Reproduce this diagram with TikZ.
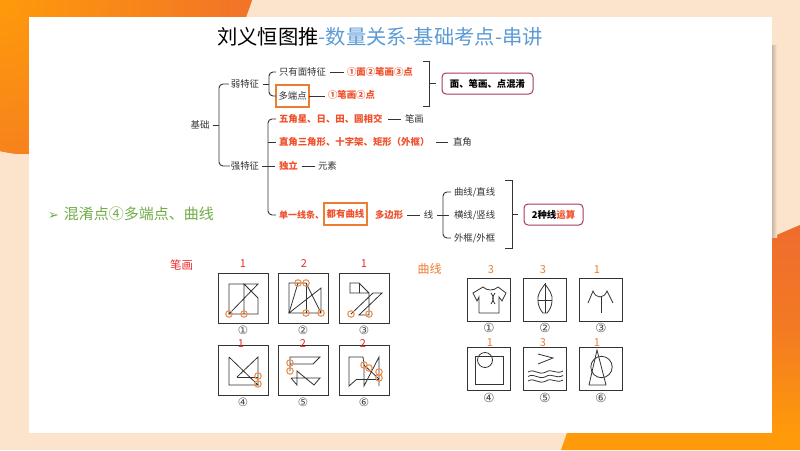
\documentclass[tikz,border=0pt]{standalone}
\usepackage{fontspec}
\setmainfont{Noto Sans CJK SC}
\newfontfamily\symfont{DejaVu Sans}
\usetikzlibrary{positioning,calc}
\definecolor{hotred}{HTML}{F0502A}
\definecolor{boxorange}{HTML}{ED7D31}
\definecolor{titleblue}{HTML}{5B9BD5}
\definecolor{leafgreen}{HTML}{70AD47}
\definecolor{tagred}{HTML}{EE2A2A}
\definecolor{linkred}{HTML}{A83A5A}
\definecolor{peach}{HTML}{FCE3CC}
\definecolor{deeporange}{HTML}{EE6C2E}
\definecolor{brightorange}{HTML}{FF9A0A}
\tikzset{
	every node/.style={inner sep=0pt,outer sep=0pt},
	plain/.style={font=\fontsize{9.4}{11}\selectfont,text=black!80},
	hot/.style={font=\fontsize{9.4}{11}\selectfont\bfseries,text=hotred},
	mark box/.style={draw=boxorange,line width=1.5pt,inner xsep=2.5pt,minimum height=22pt},
	sum box/.style={draw=linkred,line width=1pt,rounded corners=4pt,minimum height=21pt,font=\fontsize{9.4}{11}\selectfont\bfseries},
	link/.style={draw=black!80,line width=.9pt},
	frame/.style={draw=black!80,line width=1pt},
	figline/.style={draw=black!80,line width=.8pt},
	dot/.style={draw=boxorange!85,line width=1.1pt,circle,minimum size=6.5pt,fill=none},
	redtag/.style={font=\fontsize{11}{12}\selectfont,text=tagred},
	orangetag/.style={font=\fontsize{11}{12}\selectfont,text=boxorange},
	num/.style={font=\fontsize{11.5}{13}\selectfont\symfont,text=black!70},
	bignum/.style={font=\fontsize{12.5}{14}\selectfont\symfont,text=black!70}
}
\begin{document}
\begin{tikzpicture}[x=1pt,y=-1pt]
	\useasboundingbox (0,0) rectangle (800,450);
	% slide background
	\fill[peach] (0,0) rectangle (800,450);
	\begin{scope}
		\clip (0,0) -- (252,0) -- (246,17) -- (29,17) -- (29,154) .. controls (15,154) .. (0,151) -- cycle;
		\fill[deeporange] (0,0) rectangle (252,154);
		\shade[inner color=brightorange,outer color=deeporange] (0,0) circle (300);
	\end{scope}
	\shade[top color=deeporange,bottom color=brightorange,middle color=deeporange!70!brightorange] (772,237) -- (800,225) -- (800,433) -- (772,433) -- cycle;
	\fill[brightorange] (561,450) -- (567,433) -- (800,433) -- (800,450) -- cycle;
	\shade[left color=black!20!peach,right color=peach] (772,45) rectangle (777,237);
	\fill[white] (29,17) rectangle (772,433);
	% title
	\node (title) at (380,37) {\fontsize{20.3}{24}\selectfont 刘义恒图推\textcolor{titleblue}{-数量关系-基础考点-串讲}};
	% tree
	\node[plain] (base) at (200,125) {基础};
	\node[plain] (weak) at (245,84) {弱特征};
	\node[plain] (strong) at (245,166) {强特征};
	\node[plain,anchor=west] (onlyface) at (279,72) {只有面特征};
	\node[plain,mark box,anchor=west] (multi) at (276,96) {多端点};
	\node[hot,anchor=west] (facehot) at (347,72) {①面②笔画③点};
	\node[hot,anchor=west] (pathhot) at (328,95) {①笔画②点};
	\node[sum box,minimum width=91pt] (mix) at (487.5,83.5) {面、笔画、点混淆};
	\node[hot,anchor=west] (star) at (279,119) {五角星、日、田、圆相交};
	\node[plain,anchor=west] (pathword) at (405,119) {笔画};
	\node[hot,anchor=west] (right) at (279,142) {直角三角形、十字架、矩形（外框）};
	\node[plain,anchor=west] (rightword) at (453,142) {直角};
	\node[hot,anchor=west] (alone) at (279,166) {独立};
	\node[plain,anchor=west] (element) at (318,166) {元素};
	\node[hot,anchor=west,font=\fontsize{9}{11}\selectfont\bfseries] (single) at (279,215) {单一线条、};
	\node[hot,mark box] (allcurve) at (345.5,214) {都有曲线};
	\node[hot,anchor=west] (poly) at (375,215) {多边形};
	\node[plain] (line) at (428.5,215) {线};
	\node[plain,anchor=west] (curve) at (454,192) {曲线/直线};
	\node[plain,anchor=west] (cross) at (454,215) {横线/竖线};
	\node[plain,anchor=west] (outer) at (454,238) {外框/外框};
	\node[sum box,minimum width=59pt] (two) at (553.5,214.5) {2种线\textcolor{hotred}{运算}};
	% tree connectors
	\coordinate (basefork) at (219,125);
	\draw[link] ($(base.east)+(4,0)$) -- (basefork);
	\draw[link,rounded corners=4pt] ($(weak.west)+(-2,0)$) -- (219,84) -- (219,166) -- ($(strong.west)+(-1,0)$);
	\draw[link] ($(weak.east)+(4,0)$) -- (269,84);
	\draw[link,rounded corners=4pt] ($(onlyface.west)+(-3,0)$) -- (269,72) -- (269,96) -- (multi.west);
	\draw[link] ($(onlyface.east)+(4,0)$) -- (344,72);
	\draw[link] (multi.east) -- (325,96);
	\draw[link] ($(strong.east)+(3,0)$) -- (275,166);
	\draw[link,rounded corners=4pt] ($(star.west)+(-3,0)$) -- (268,119) -- (268,215) -- ($(single.west)+(-3,0)$);
	\draw[link] (268,142) -- ($(right.west)+(-3,0)$);
	\draw[link] ($(star.east)+(6,0)$) -- (401,119);
	\draw[link] ($(right.east)+(7,0)$) -- (448,142);
	\draw[link] ($(alone.east)+(4,0)$) -- (315,166);
	\draw[link] ($(poly.east)+(4,0)$) -- (420,215);
	\draw[link] ($(line.east)+(4,0)$) -- (449,215);
	\draw[link,rounded corners=4pt] ($(curve.west)+(-3,0)$) -- (443,192) -- (443,238) -- ($(outer.west)+(-3,0)$);
	% brackets
	\draw[link] (423,61) -- (429,61) -- (429,106) -- (423,106);
	\coordinate (mixend) at ($(mix.west)+(-6,0)$);
	\draw[link] (429,83.5) -- (mixend);
	\draw[link] (505,180) -- (512,180) -- (512,248) -- (505,248);
	\coordinate (twoend) at ($(two.west)+(-6,0)$);
	\draw[link] (512,214.5) -- (twoend);
	% side note
	\node[anchor=west,text=leafgreen] (note) at (48,214) {{\symfont\fontsize{13}{14}\selectfont ➢}\hspace{5pt}\fontsize{15}{18}\selectfont 混淆点④多端点、曲线};
	% left figures
	\node[font=\fontsize{11.5}{13}\selectfont,text=tagred] (pathtag) at (181.5,265) {笔画};
	\foreach \x/\y/\tx/\ty/\t/\c in {218/273/243/264/1/①,278/273/304/264/2/②,339/273/364/264/1/③,218/345/241/344/1/④,278/345/303/344/2/⑤,339/345/363/344/2/⑥}{
		\draw[frame] (\x,\y) rectangle +(50,50);
		\node[redtag] at (\tx,\ty) {\t};
		\node[num] at ($(\x,\y)+(25,57)$) {\c};
	}
	% figure 1
	\draw[figline] (229,314) -- (229,284) -- (258,284) -- (229,314) -- (258,314) -- (258,298) -- (244,284) -- (244,314);
	\foreach \p in {(229,314),(244,314)} \node[dot] at \p {};
	% figure 2
	\draw[figline] (289,313) -- (289,283) -- (306,283) -- (321,313) -- (289,313) -- (321,288) -- (321,313);
	\draw[figline] (298,283) -- (289,313);
	\draw[figline] (306,283) -- (306,313);
	\foreach \p in {(298,283),(306,283),(306,313),(321,313)} \node[dot] at \p {};
	% figure 3
	\draw[figline] (369,293) -- (350,293) -- (350,283) -- (359,283) -- (369,293) -- (369,315) -- (359,315) -- (382,293) -- (373,293) -- (351,314);
	\draw[figline] (359,283) -- (359,293);
	\foreach \p in {(351,314),(369,314)} \node[dot] at \p {};
	% figure 4
	\draw[figline] (229,357) -- (258,385) -- (229,385) -- (229,357);
	\draw[figline] (237,377) -- (258,357) -- (258,385);
	\draw[figline] (237,377) -- (258,377);
	\foreach \p in {(258,376),(258,384)} \node[dot] at \p {};
	% figure 5
	\draw[figline] (290,371) -- (290,357) -- (320,357) -- (313,364) -- (290,364);
	\draw[figline] (291,378) -- (320,378) -- (314,385) -- (297,371) -- (297,385) -- (291,378);
	\foreach \p in {(290,363),(290,371)} \node[dot] at \p {};
	% figure 6
	\draw[figline] (357,379) -- (349,386) -- (349,357) -- (363,357) -- (364,365) -- (379,379);
	\draw[figline] (357,379) -- (379,379);
	\draw[figline] (364,365) -- (364,386) -- (379,357) -- (379,386);
	\foreach \p in {(364,365),(369,368),(379,372),(379,378)} \node[dot] at \p {};
	% right figures
	\node[font=\fontsize{12}{13}\selectfont,text=boxorange] (curvetag) at (429.5,269) {曲线};
	\foreach \x/\y/\tx/\ty/\t/\c/\nx/\ny in {467/278/491/270/3/①/489/328,523/278/543/270/3/②/545/328,579/278/597/270/1/③/601/328,467/347/490/342.5/1/④/489/398,523/347/543/342.5/3/⑤/545/398,579/347/597/342.5/1/⑥/601/398}{
		\draw[frame] (\x,\y) rectangle +(43.5,43);
		\node[orangetag] at (\tx,\ty) {\t};
		\node[bignum] at (\nx,\ny) {\c};
	}
	% shirt
	\draw[figline] (479,313) -- (479,297) -- (477,301) -- (473,293) -- (483,287) .. controls (487,291) and (494,291) .. (498,287) -- (506,293) -- (502,301) -- (499,297) -- (499,313) -- (479,313);
	\draw[figline] (491,293) .. controls (494,297) and (494,300) .. (491,304);
	\draw[figline] (495,293) .. controls (492,297) and (492,300) .. (495,304);
	% leaf
	\draw[figline] (545,284) .. controls (541,290) and (537,294) .. (538,301) .. controls (538,306) and (541,311) .. (543,313) -- (547,313) .. controls (549,311) and (552,306) .. (552,301) .. controls (553,294) and (549,290) .. (545,284);
	\draw[figline] (545,283) -- (545,313);
	\draw[figline] (538,300) -- (552,300);
	% stand
	\draw[figline] (588,303) -- (593,291) .. controls (596,299) and (604,299) .. (607,291) -- (613,303);
	\draw[figline] (601,297) -- (601,313);
	% square and circle
	\draw[figline] (475,356) rectangle (503,384);
	\draw[figline] (485,360) circle (7.5);
	% chevron and waves
	\draw[figline] (538,354) -- (553,358) -- (538,364);
	\foreach \w in {372,376.5,381}{
		\draw[figline] (528,\w) .. controls (535,\w-4) and (538,\w+4) .. (546,\w) .. controls (552,\w-4) and (556,\w+3) .. (563,\w-1);
	}
	% triangle and circle
	\draw[figline] (601.5,367) circle (10.7);
	\draw[figline] (589,385) -- (597,350) -- (606,385) -- cycle;
\end{tikzpicture}
\end{document}
